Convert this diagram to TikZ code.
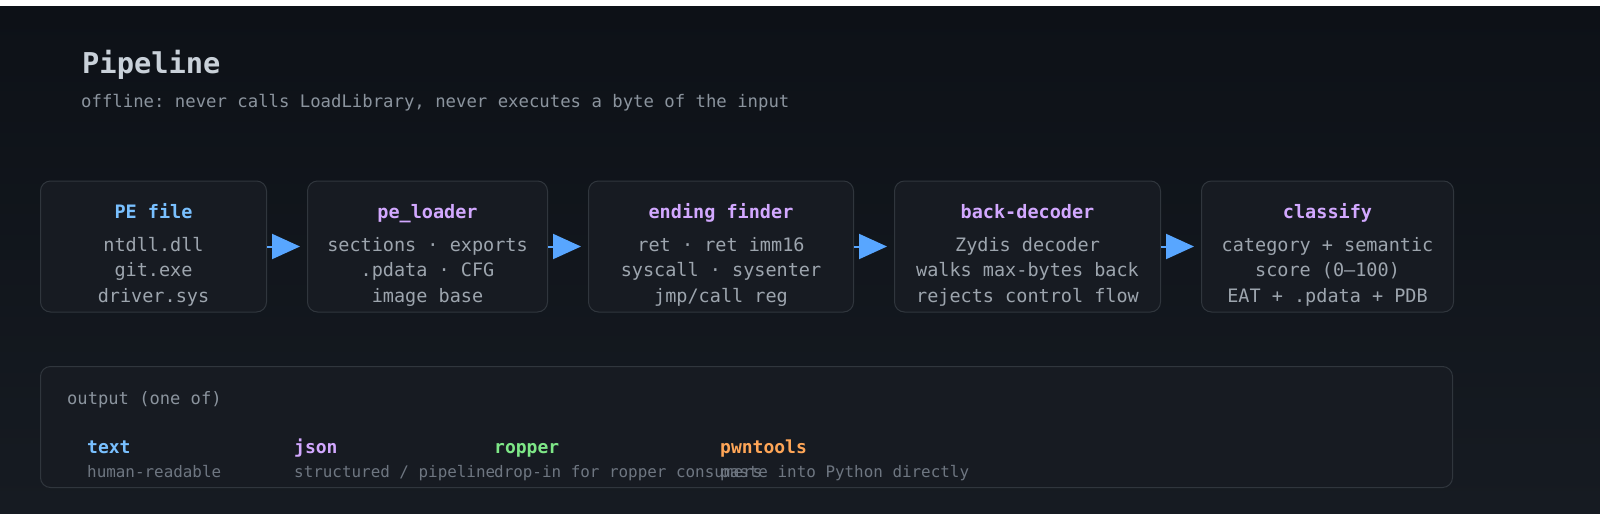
\documentclass[tikz,border=0pt]{standalone}
\usepackage{fontspec}
\setmonofont{DejaVu Sans Mono}
\usepackage{xcolor}
\usepackage{tikz}
\usetikzlibrary{arrows.meta,positioning,calc}

\definecolor{bgtop}{HTML}{0D1117}
\definecolor{bgbot}{HTML}{161B22}
\definecolor{boxfill}{HTML}{171B22}
\definecolor{boxline}{HTML}{30363D}
\definecolor{headtxt}{HTML}{C9D1D9}
\definecolor{subtxt}{HTML}{8B949E}
\definecolor{bodytxt}{HTML}{9DA5AE}
\definecolor{dimtxt}{HTML}{6E7681}
\definecolor{blueish}{HTML}{79C0FF}
\definecolor{purpleish}{HTML}{D2A8FF}
\definecolor{greenish}{HTML}{7EE787}
\definecolor{orangeish}{HTML}{FFA657}
\definecolor{arrowblue}{HTML}{58A6FF}

\newcommand{\stagetitle}[2]{\rule{0pt}{31pt}{\bfseries\color{#1}#2}\\[7.5pt]}

\begin{document}
\begin{tikzpicture}[
  x=1pt, y=-1pt,
  stagebox/.style={draw=boxline, fill=boxfill, line width=1pt, rounded corners=10pt,
    minimum height=131pt, inner sep=0pt, align=center, text=bodytxt,
    font=\ttfamily\fontsize{18.5}{25.5}\selectfont},
  outbox/.style={draw=boxline, fill=boxfill, line width=1pt, rounded corners=10pt,
    minimum width=1412pt, minimum height=121pt, inner sep=0pt},
  arr/.style={-{Triangle[length=28pt, width=25pt]}, draw=arrowblue, line width=2pt,
    shorten >=7pt},
  outhead/.style={anchor=base west, inner sep=0pt, font=\ttfamily\bfseries\fontsize{18}{20}\selectfont},
  outdesc/.style={anchor=base west, inner sep=0pt, text=dimtxt, font=\ttfamily\fontsize{15.9}{18}\selectfont},
  node distance=40pt,
]

% ===== canvas =====
\fill[white] (0,0) rectangle (1600,520);
\shade[top color=bgtop, bottom color=bgbot] (0,6) rectangle (1600,513);
\useasboundingbox (0,0) rectangle (1600,520);

% ===== heading =====
\node[anchor=base west, inner sep=0pt, text=headtxt,
  font=\ttfamily\bfseries\fontsize{28.7}{32}\selectfont] (title) at (82,73) {Pipeline};
\node[anchor=base west, inner sep=0pt, text=subtxt,
  font=\ttfamily\fontsize{17.3}{20}\selectfont] (subtitle) at (81,107)
  {offline: never calls LoadLibrary, never executes a byte of the input};

% ===== stages =====
\node[stagebox, minimum width=226pt, anchor=west] (pefile) at (40,246.5)
  {\stagetitle{blueish}{PE file}ntdll.dll\\git.exe\\driver.sys};
\node[stagebox, minimum width=240pt, right=of pefile] (loader)
  {\stagetitle{purpleish}{pe\_loader}sections · exports\\.pdata · CFG\\image base};
\node[stagebox, minimum width=265pt, right=of loader] (finder)
  {\stagetitle{purpleish}{ending finder}ret · ret imm16\\syscall · sysenter\\jmp/call reg};
\node[stagebox, minimum width=266pt, right=of finder] (decoder)
  {\stagetitle{purpleish}{back-decoder}Zydis decoder\\walks max-bytes back\\rejects control flow};
\node[stagebox, minimum width=252pt, right=of decoder] (classify)
  {\stagetitle{purpleish}{classify}category + semantic\\score (0–100)\\EAT + .pdata + PDB};

\draw[arr] (pefile) -- (loader);
\draw[arr] (loader) -- (finder);
\draw[arr] (finder) -- (decoder);
\draw[arr] (decoder) -- (classify);

% ===== output formats =====
\node[outbox, anchor=north west] (output) at (40,366) {};
\node[anchor=base west, inner sep=0pt, text=subtxt,
  font=\ttfamily\fontsize{17.1}{20}\selectfont] (outlabel) at (67,404) {output (one of)};

\node[outhead, text=blueish] (fmttext) at (87,453) {text};
\node[outdesc] (fmttextd) at (87,477) {human-readable};
\node[outhead, text=purpleish] (fmtjson) at (294,453) {json};
\node[outdesc] (fmtjsond) at (294,477) {structured / pipeline};
\node[outhead, text=greenish] (fmtropper) at (494,453) {ropper};
\node[outdesc] (fmtropperd) at (494,477) {drop-in for ropper consumers};
\node[outhead, text=orangeish] (fmtpwn) at (720,453) {pwntools};
\node[outdesc] (fmtpwnd) at (720,477) {paste into Python directly};

\end{tikzpicture}
\end{document}
